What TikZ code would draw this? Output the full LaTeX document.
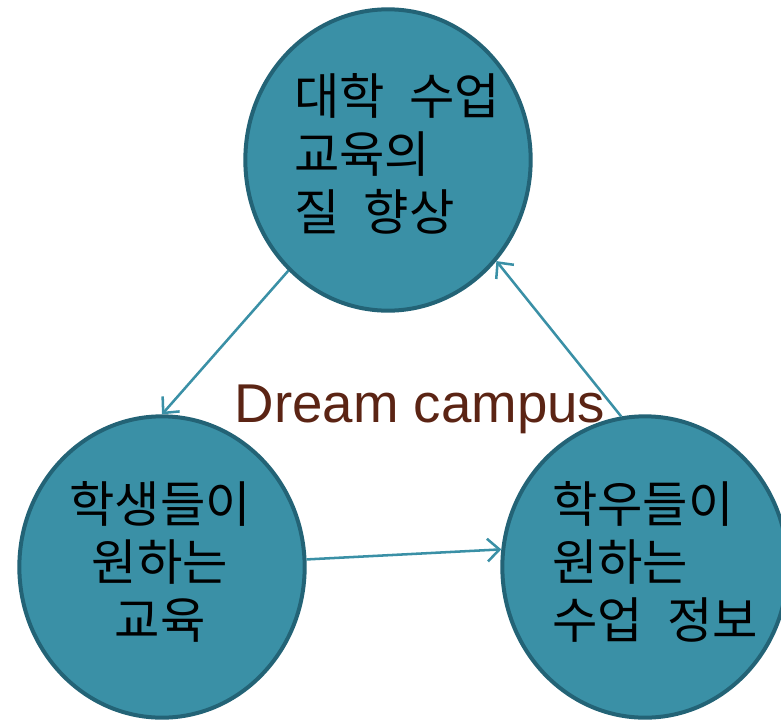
\documentclass[tikz,border=0pt]{standalone}
\usepackage{fontspec}
\setmainfont{Liberation Sans}
\newfontfamily\kr[WordSpace=2.2]{Noto Sans CJK KR}
\usetikzlibrary{arrows.meta,shapes.geometric}
\definecolor{tealfill}{RGB}{58,144,166}
\definecolor{tealrim}{RGB}{35,99,118}
\definecolor{dreambrown}{RGB}{91,36,20}

\begin{document}
\begin{tikzpicture}[x=0.75pt,y=-0.75pt,
    bubble/.style={ellipse, fill=tealfill, draw=tealrim, line width=3pt,
        minimum width=214pt, minimum height=226pt, inner sep=0pt},
    words/.style={font=\kr\fontsize{37}{43.5}\selectfont, text=black, inner sep=0pt},
    link/.style={draw=tealfill, line width=1.9pt, -{Straight Barb[length=9pt,width=17pt]}}]
    \useasboundingbox (0,0) rectangle (781,721);
    \node[bubble] (Top) at (388,160) {};
    \node[bubble] (Left) at (162,567) {};
    \node[bubble] (Right) at (645,567) {};
    \node[words, align=left] (TopText) at (397,154) {대학 수업\\교육의\\질 향상};
    \node[words, align=center] (LeftText) at (160,562) {학생들이\\원하는\\교육};
    \node[words, align=left] (RightText) at (655,562) {학우들이\\원하는\\수업 정보};
    \node[font=\fontsize{41}{49}\selectfont, text=dreambrown, anchor=base, inner sep=0pt] (Dream) at (420,422) {Dream campus};
    \draw[link] (Top.228) -- (Left.90);
    \draw[link] (Left.3) -- (Right.173);
    \draw[link] (Right.99) -- (Top.317);
\end{tikzpicture}
\end{document}
